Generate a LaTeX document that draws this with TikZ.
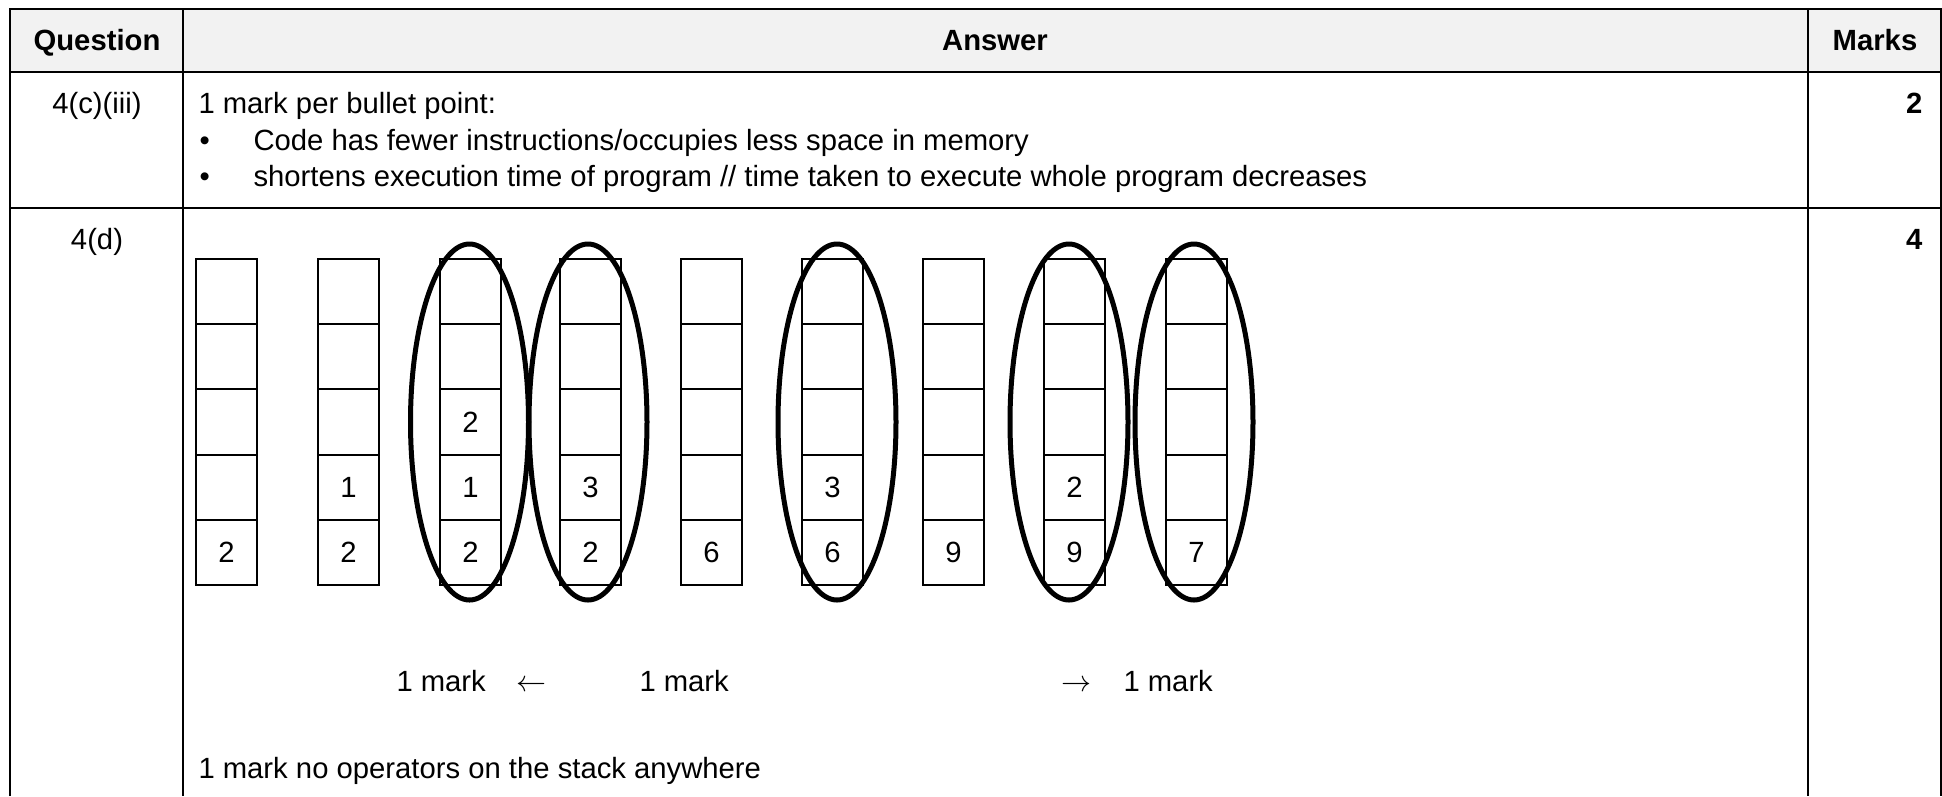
\documentclass[tikz,border=0pt]{standalone}
\usepackage{fontspec}
\setmainfont{Liberation Sans}
\usetikzlibrary{positioning, calc}
\definecolor{headgray}{HTML}{F2F2F2}

\begin{document}
\begin{tikzpicture}[x=0.4pt, y=-0.4pt, font=\fontsize{11.7}{14}\selectfont,
    rule/.style={line width=0.8pt},
    cell/.style={draw, line width=0.8pt, minimum width=24.4pt, minimum height=26.08pt, inner sep=0pt},
    ring/.style={line width=2pt},
    txt/.style={anchor=base west, inner sep=0pt}]
    \useasboundingbox (0,0) rectangle (1942,796);

    % Table frame and header row
    \fill[headgray] (10,9) rectangle (1941,72);
    \draw[rule] (10,796) -- (10,9) -- (1941,9) -- (1941,796);
    \draw[rule] (10,72) -- (1941,72);
    \draw[rule] (10,208) -- (1941,208);
    \draw[rule] (183,9) -- (183,796);
    \draw[rule] (1808,9) -- (1808,796);

    \node[anchor=base, inner sep=0pt] (hq) at (97,50) {\bfseries Question};
    \node[anchor=base, inner sep=0pt] (ha) at (995,50) {\bfseries Answer};
    \node[anchor=base, inner sep=0pt] (hm) at (1875,50) {\bfseries Marks};

    % Row 4(c)(iii)
    \node[anchor=base, inner sep=0pt] (q1) at (97,113) {4(c)(iii)};
    \node[txt] (a1) at (198,113) {1 mark per bullet point:};
    \node[txt] (b1) at (199,150) {\textbullet};
    \node[txt] (a2) at (253,150) {Code has fewer instructions/occupies less space in memory};
    \node[txt] (b2) at (199,186) {\textbullet};
    \node[txt] (a3) at (253,186) {shortens execution time of program // time taken to execute whole program decreases};
    \node[anchor=base east, inner sep=0pt] (m1) at (1923,113) {\bfseries 2};

    % Row 4(d)
    \node[anchor=base, inner sep=0pt] (q2) at (97,249) {4(d)};
    \node[anchor=base east, inner sep=0pt] (m2) at (1923,249) {\bfseries 4};

    % Stacks, five cells each, counted from the bottom
    \foreach \x [count=\c] in {196,318,440,560,681,802,923,1044,1166}
        \foreach \r in {1,...,5}
            \node[cell] (s\c-\r) at (\x+30.5, 617.6-\r*65.2) {};

    \foreach \c/\r/\v in {1/1/2, 2/1/2, 2/2/1, 3/1/2, 3/2/1, 3/3/2, 4/1/2, 4/2/3,
                          5/1/6, 6/1/6, 6/2/3, 7/1/9, 8/1/9, 8/2/2, 9/1/7}
        \node (d\c-\r) at (s\c-\r) {\v};

    % Rings round the marked stacks
    \foreach \c/\dx in {3/-1, 4/-2.5, 6/4.5, 8/-5.5, 9/-2.5}
        \draw[ring] ($(s\c-3)+(\dx,0)$) ellipse (59 and 178);

    % Mark notes
    \node[txt] (k1) at (396,691) {1 mark};
    \node[txt] (k2) at (516,691) {$\leftarrow$};
    \node[txt] (k3) at (639,691) {1 mark};
    \node[txt] (k4) at (1061,691) {$\rightarrow$};
    \node[txt] (k5) at (1123,691) {1 mark};
    \node[txt] (k6) at (198,778) {1 mark no operators on the stack anywhere};
\end{tikzpicture}
\end{document}
